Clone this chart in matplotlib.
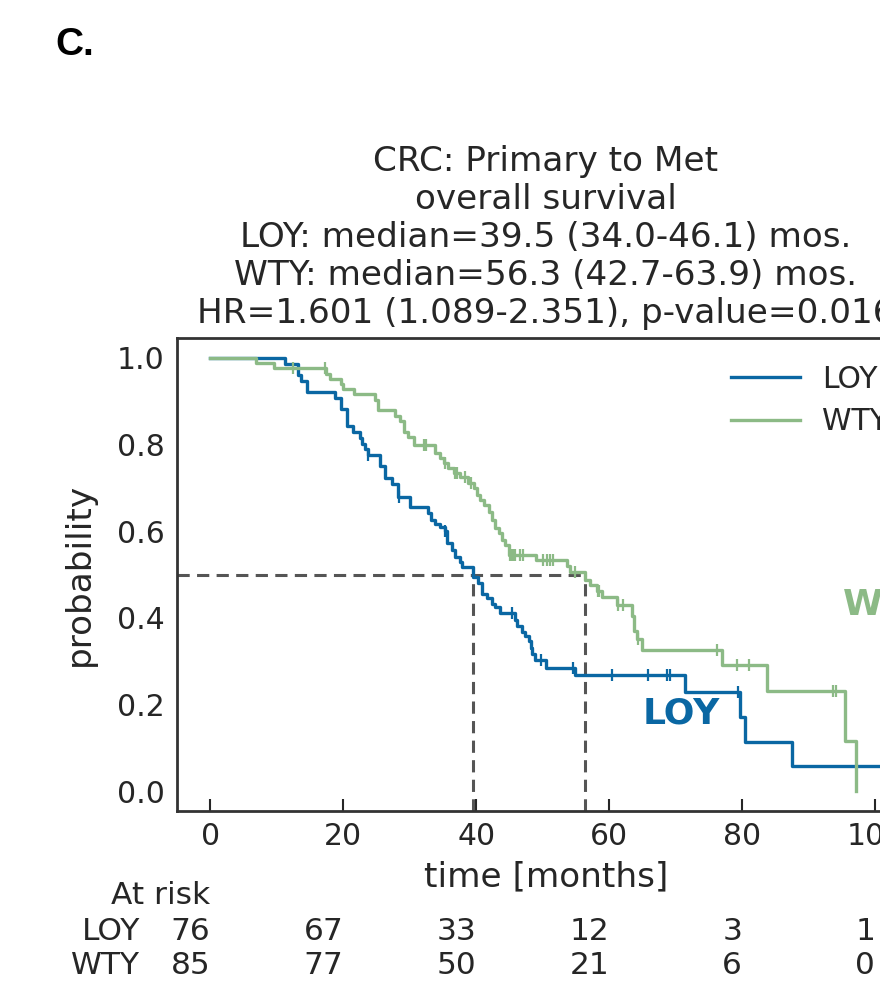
import numpy as np
import matplotlib
matplotlib.use("Agg")
import matplotlib.pyplot as plt
import matplotlib.transforms as mtransforms

# ---------------- data ----------------
LOY_t = [0, 11.3, 13.2, 13.6, 14.6, 18.7, 19.7, 20.5, 21.4, 22.5, 22.9, 23.3, 23.7,
         25.6, 26.3, 27.3, 28.3, 30.0, 32.8, 33.2, 33.8, 34.6, 35.3, 35.6, 36.3,
         36.8, 37.6, 37.8, 39.5, 40.3, 40.9, 41.6, 42.4, 42.9, 43.6, 45.9, 46.1,
         46.9, 47.4, 47.9, 48.2, 48.4, 48.9, 50.5, 54.9, 71.4, 79.7, 80.5, 87.5]
LOY_S = [1.0, 0.987, 0.961, 0.947, 0.921, 0.908, 0.882, 0.842, 0.829, 0.816, 0.802, 0.789, 0.776,
         0.750, 0.723, 0.710, 0.680, 0.656, 0.641, 0.626, 0.617, 0.610, 0.600, 0.573, 0.557,
         0.541, 0.530, 0.518, 0.495, 0.480, 0.456, 0.445, 0.433, 0.424, 0.412, 0.395, 0.380,
         0.368, 0.358, 0.347, 0.331, 0.316, 0.303, 0.283, 0.268, 0.228, 0.171, 0.114, 0.057]
LOY_end = 104.0
LOY_censor = [23.7, 28.4, 35.3, 45.4, 49.7, 54.6, 60.4, 65.9, 68.7, 69.1, 79.4]

WTY_t = [0, 6.9, 9.6, 17.4, 18.0, 19.7, 20.0, 21.6, 24.8, 25.3, 27.8, 28.6, 29.1, 29.8,
         30.6, 33.8, 34.6, 35.1, 35.8, 36.6, 37.6, 38.8, 39.6, 40.1, 40.6, 41.1, 41.9,
         42.4, 42.9, 43.4, 43.9, 44.4, 44.9, 49.0, 53.6, 54.1, 56.3, 57.1, 58.1, 58.9,
         61.2, 63.4, 63.7, 64.2, 64.9, 77.0, 83.8, 95.5, 97.1]
WTY_S = [1.0, 0.988, 0.976, 0.964, 0.952, 0.940, 0.928, 0.916, 0.903, 0.879, 0.866, 0.854, 0.830, 0.817,
         0.800, 0.780, 0.768, 0.757, 0.745, 0.735, 0.725, 0.711, 0.699, 0.684, 0.672, 0.661, 0.645,
         0.626, 0.607, 0.595, 0.580, 0.568, 0.545, 0.533, 0.519, 0.506, 0.488, 0.476, 0.462, 0.448,
         0.430, 0.404, 0.370, 0.352, 0.326, 0.290, 0.232, 0.116, 0.0]
WTY_end = 97.1
WTY_censor = [12.5, 17.3, 32.2, 32.5, 35.3, 36.8, 37.1, 38.3, 39.2, 45.1, 45.3, 45.5, 45.8,
              46.6, 47.1, 50.1, 50.6, 51.1, 51.6, 54.9, 58.3, 58.5, 61.4, 62.1, 64.4, 76.2,
              79.2, 81.0, 93.6, 94.1]

medians = {"LOY": 39.5, "WTY": 56.3}

xticks = [0, 20, 40, 60, 80, 100]
risk_LOY = [76, 67, 33, 12, 3, 1]
risk_WTY = [85, 77, 50, 21, 6, 0]

title = ("CRC: Primary to Met\noverall survival\n"
         "LOY: median=39.5 (34.0-46.1) mos.\n"
         "WTY: median=56.3 (42.7-63.9) mos.\n"
         "HR=1.601 (1.089-2.351), p-value=0.016")

C_LOY = "#0a67a3"
C_WTY = "#8cba86"
FS = 21.5      # tick labels / legend
FS_T = 24.7    # title and axis labels
FS_R = 22.5    # at-risk table
TXT = "#262626"

plt.rcParams['font.family'] = ['DejaVu Sans']

fig = plt.figure(figsize=(8.8, 9.86), dpi=100)
W, H = 880, 986
ax = fig.add_axes([177 / W, (H - 811) / H, (915 - 177) / W, (811 - 338) / H])

def curve(ax, t, S, end, cens, color, label):
    tt = np.append(np.array(t, float), end)
    ss = np.append(np.array(S, float), S[-1])
    ax.step(tt, ss, where='post', color=color, lw=2.4, label=label, zorder=3)
    ta = np.array(t, float)
    sa = np.array(S, float)
    idx = np.searchsorted(ta, np.array(cens, float), side='right') - 1
    ax.plot(cens, sa[idx], ls='none', marker='|', ms=9, mew=1.6, color=color, zorder=3)

curve(ax, LOY_t, LOY_S, LOY_end, LOY_censor, C_LOY, "LOY")
curve(ax, WTY_t, WTY_S, WTY_end, WTY_censor, C_WTY, "WTY")

ax.set_xlim(-5, 106)
ax.set_ylim(-0.046, 1.046)

# median guide lines
ymin = ax.get_ylim()[0]
xmin = ax.get_xlim()[0]
ax.plot([xmin, max(medians.values())], [0.5, 0.5], ls=(0, (4, 2.4)), color="#555555", lw=2.2, zorder=2)
for m in medians.values():
    ax.plot([m, m], [ymin, 0.5], ls=(0, (4, 2.4)), color="#555555", lw=2.2, zorder=2)

ax.text(70.8, 0.18, "LOY", color=C_LOY, fontsize=26, fontweight='bold', ha='center', va='center')
ax.text(95.2, 0.43, "WTY", color=C_WTY, fontsize=26, fontweight='bold', ha='left', va='center')

ax.set_xticks(xticks)
ax.set_yticks([0.0, 0.2, 0.4, 0.6, 0.8, 1.0])
ax.set_yticklabels(["0.0", "0.2", "0.4", "0.6", "0.8", "1.0"])
ax.tick_params(axis='x', direction='in', length=9, width=1.5, color=TXT, labelsize=FS, labelcolor=TXT, pad=8)
ax.tick_params(axis='y', length=0, labelsize=FS, labelcolor=TXT, pad=9)
for sp in ax.spines.values():
    sp.set_linewidth(2)
    sp.set_color("#333333")

ax.set_xlabel("time [months]", fontsize=FS_T, color=TXT, labelpad=7)
ax.set_ylabel("probability", fontsize=FS_T, color=TXT, labelpad=15)
ax.set_title(title, fontsize=FS_T, color=TXT, pad=10.5, linespacing=1.2)

leg = ax.legend(loc='upper right', frameon=False, fontsize=FS, handlelength=2.3,
                handletextpad=0.75, labelspacing=0.45)
for txt in leg.get_texts():
    txt.set_color(TXT)

# at-risk table
trans = mtransforms.blended_transform_factory(ax.transData, fig.transFigure)
y_hdr = 1 - 896 / H
y_loy = 1 - 931 / H
y_wty = 1 - 966 / H
fig.text(210 / W, y_hdr, "At risk", fontsize=FS_R, color=TXT, ha='right', va='center')
fig.text(140 / W, y_loy, "LOY", fontsize=FS_R, color=TXT, ha='right', va='center')
fig.text(140 / W, y_wty, "WTY", fontsize=FS_R, color=TXT, ha='right', va='center')
for x, a, b in zip(xticks, risk_LOY, risk_WTY):
    ax.text(x, y_loy, str(a), transform=trans, fontsize=FS_R, color=TXT, ha='right', va='center')
    ax.text(x, y_wty, str(b), transform=trans, fontsize=FS_R, color=TXT, ha='right', va='center')

fig.text(55 / W, 1 - 45 / H, "C.", fontsize=28, fontweight='bold', family=['Liberation Sans'],
         color='black', ha='left', va='center')

fig.savefig("out.png", dpi=100)
